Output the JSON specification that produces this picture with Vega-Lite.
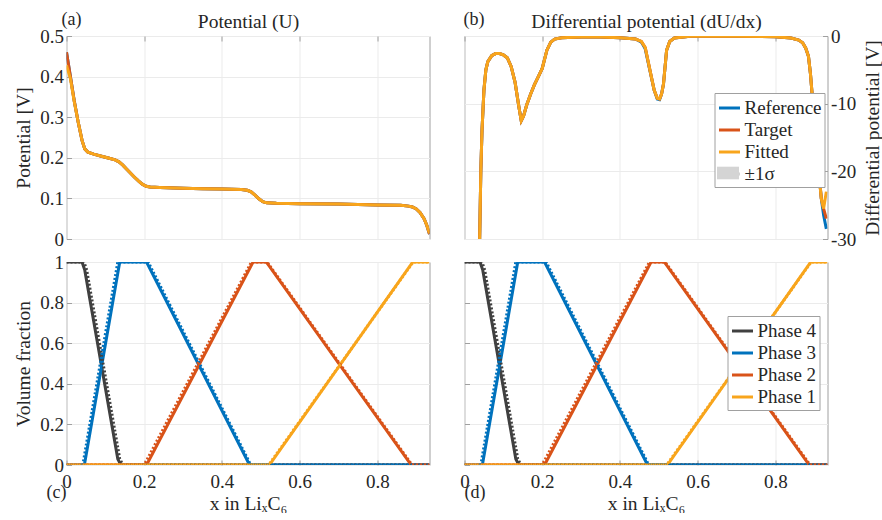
{
  "$schema": "https://vega.github.io/schema/vega-lite/v6.json",
  "padding": {"left": 12.5, "top": 10, "right": 0, "bottom": 0},
  "background": "white",
  "config": {
    "font": "Liberation Serif, DejaVu Serif, serif",
    "view": {"stroke": "#a0a0a0", "strokeWidth": 1},
    "axis": {
      "grid": true, "gridColor": "#ebebeb", "gridWidth": 1,
      "domain": false, "tickColor": "#a0a0a0", "tickSize": -5, "tickWidth": 1,
      "labelFont": "Liberation Serif, DejaVu Serif, serif", "labelFontSize": 19, "labelColor": "#262626", "labelPadding": 8,
      "titleFont": "Liberation Serif, DejaVu Serif, serif", "titleFontSize": 19.5, "titleFontWeight": "normal", "titleColor": "#262626",
      "labelFlush": false, "labelOverlap": false, "labelExpr": "'' + datum.value"
    },
    "title": {"font": "Liberation Serif, DejaVu Serif, serif", "fontSize": 18, "fontWeight": "normal", "color": "#262626"},
    "legend": {"labelFont": "Liberation Serif, DejaVu Serif, serif", "labelFontSize": 19, "labelColor": "#262626"},
    "line": {"strokeWidth": 3}
  },
  "datasets": {
    "U": [
      {"x": 0, "Reference": 0.46, "Target": 0.46, "Fitted": 0.428},
      {"x": 0.01, "Reference": 0.40, "Target": 0.40, "Fitted": 0.395},
      {"x": 0.02, "Reference": 0.34, "Target": 0.34, "Fitted": 0.338},
      {"x": 0.03, "Reference": 0.288, "Target": 0.288, "Fitted": 0.288},
      {"x": 0.04, "Reference": 0.243, "Target": 0.243, "Fitted": 0.243},
      {"x": 0.047, "Reference": 0.222, "Target": 0.222, "Fitted": 0.222},
      {"x": 0.055, "Reference": 0.214, "Target": 0.214, "Fitted": 0.214},
      {"x": 0.07, "Reference": 0.209, "Target": 0.209, "Fitted": 0.209},
      {"x": 0.09, "Reference": 0.204, "Target": 0.204, "Fitted": 0.204},
      {"x": 0.11, "Reference": 0.199, "Target": 0.199, "Fitted": 0.199},
      {"x": 0.125, "Reference": 0.195, "Target": 0.195, "Fitted": 0.195},
      {"x": 0.135, "Reference": 0.19, "Target": 0.19, "Fitted": 0.19},
      {"x": 0.145, "Reference": 0.182, "Target": 0.182, "Fitted": 0.182},
      {"x": 0.155, "Reference": 0.172, "Target": 0.172, "Fitted": 0.172},
      {"x": 0.165, "Reference": 0.162, "Target": 0.162, "Fitted": 0.162},
      {"x": 0.175, "Reference": 0.152, "Target": 0.152, "Fitted": 0.152},
      {"x": 0.185, "Reference": 0.143, "Target": 0.143, "Fitted": 0.143},
      {"x": 0.195, "Reference": 0.135, "Target": 0.135, "Fitted": 0.135},
      {"x": 0.205, "Reference": 0.13, "Target": 0.13, "Fitted": 0.13},
      {"x": 0.215, "Reference": 0.128, "Target": 0.128, "Fitted": 0.128},
      {"x": 0.24, "Reference": 0.127, "Target": 0.127, "Fitted": 0.127},
      {"x": 0.3, "Reference": 0.125, "Target": 0.125, "Fitted": 0.125},
      {"x": 0.35, "Reference": 0.124, "Target": 0.124, "Fitted": 0.124},
      {"x": 0.4, "Reference": 0.123, "Target": 0.123, "Fitted": 0.123},
      {"x": 0.45, "Reference": 0.122, "Target": 0.122, "Fitted": 0.122},
      {"x": 0.465, "Reference": 0.12, "Target": 0.12, "Fitted": 0.12},
      {"x": 0.475, "Reference": 0.116, "Target": 0.116, "Fitted": 0.116},
      {"x": 0.485, "Reference": 0.108, "Target": 0.108, "Fitted": 0.108},
      {"x": 0.495, "Reference": 0.099, "Target": 0.099, "Fitted": 0.099},
      {"x": 0.505, "Reference": 0.092, "Target": 0.092, "Fitted": 0.092},
      {"x": 0.515, "Reference": 0.089, "Target": 0.089, "Fitted": 0.089},
      {"x": 0.54, "Reference": 0.088, "Target": 0.088, "Fitted": 0.088},
      {"x": 0.6, "Reference": 0.087, "Target": 0.087, "Fitted": 0.087},
      {"x": 0.7, "Reference": 0.086, "Target": 0.086, "Fitted": 0.086},
      {"x": 0.8, "Reference": 0.084, "Target": 0.084, "Fitted": 0.084},
      {"x": 0.86, "Reference": 0.083, "Target": 0.083, "Fitted": 0.083},
      {"x": 0.88, "Reference": 0.081, "Target": 0.081, "Fitted": 0.081},
      {"x": 0.89, "Reference": 0.079, "Target": 0.079, "Fitted": 0.079},
      {"x": 0.9, "Reference": 0.074, "Target": 0.074, "Fitted": 0.074},
      {"x": 0.91, "Reference": 0.065, "Target": 0.065, "Fitted": 0.065},
      {"x": 0.92, "Reference": 0.05, "Target": 0.05, "Fitted": 0.05},
      {"x": 0.927, "Reference": 0.034, "Target": 0.034, "Fitted": 0.034},
      {"x": 0.934, "Reference": 0.012, "Target": 0.012, "Fitted": 0.014}
    ],
    "dU": [
      {"x": 0.036, "Reference": -36, "Target": -36, "Fitted": -36},
      {"x": 0.039, "Reference": -30, "Target": -30, "Fitted": -30},
      {"x": 0.042, "Reference": -20, "Target": -20, "Fitted": -20},
      {"x": 0.045, "Reference": -14, "Target": -14, "Fitted": -14},
      {"x": 0.05, "Reference": -8, "Target": -8, "Fitted": -8},
      {"x": 0.055, "Reference": -5, "Target": -5, "Fitted": -5},
      {"x": 0.06, "Reference": -3.8, "Target": -3.8, "Fitted": -3.8},
      {"x": 0.07, "Reference": -2.9, "Target": -2.9, "Fitted": -2.9},
      {"x": 0.08, "Reference": -2.6, "Target": -2.6, "Fitted": -2.6},
      {"x": 0.09, "Reference": -2.6, "Target": -2.6, "Fitted": -2.6},
      {"x": 0.1, "Reference": -2.8, "Target": -2.8, "Fitted": -2.8},
      {"x": 0.11, "Reference": -3.2, "Target": -3.2, "Fitted": -3.2},
      {"x": 0.12, "Reference": -4.5, "Target": -4.5, "Fitted": -4.5},
      {"x": 0.13, "Reference": -6.8, "Target": -6.8, "Fitted": -6.8},
      {"x": 0.14, "Reference": -10.5, "Target": -10.5, "Fitted": -10.5},
      {"x": 0.146, "Reference": -12.5, "Target": -12.5, "Fitted": -12.5},
      {"x": 0.152, "Reference": -11.8, "Target": -11.8, "Fitted": -11.8},
      {"x": 0.16, "Reference": -10.2, "Target": -10.2, "Fitted": -10.2},
      {"x": 0.17, "Reference": -8.6, "Target": -8.6, "Fitted": -8.6},
      {"x": 0.18, "Reference": -7.2, "Target": -7.2, "Fitted": -7.2},
      {"x": 0.19, "Reference": -6, "Target": -6, "Fitted": -6},
      {"x": 0.2, "Reference": -4.8, "Target": -4.8, "Fitted": -4.8},
      {"x": 0.212, "Reference": -2.1, "Target": -2.1, "Fitted": -2.1},
      {"x": 0.222, "Reference": -0.9, "Target": -0.9, "Fitted": -0.9},
      {"x": 0.232, "Reference": -0.45, "Target": -0.45, "Fitted": -0.45},
      {"x": 0.25, "Reference": -0.25, "Target": -0.25, "Fitted": -0.25},
      {"x": 0.3, "Reference": -0.15, "Target": -0.15, "Fitted": -0.15},
      {"x": 0.35, "Reference": -0.15, "Target": -0.15, "Fitted": -0.15},
      {"x": 0.4, "Reference": -0.25, "Target": -0.25, "Fitted": -0.25},
      {"x": 0.44, "Reference": -0.45, "Target": -0.45, "Fitted": -0.45},
      {"x": 0.455, "Reference": -0.9, "Target": -0.8, "Fitted": -0.8},
      {"x": 0.465, "Reference": -1.9, "Target": -1.7, "Fitted": -1.7},
      {"x": 0.477, "Reference": -5.1, "Target": -5, "Fitted": -5},
      {"x": 0.488, "Reference": -8, "Target": -8, "Fitted": -8},
      {"x": 0.496, "Reference": -9.3, "Target": -9.2, "Fitted": -9.2},
      {"x": 0.502, "Reference": -9.4, "Target": -9.3, "Fitted": -9.3},
      {"x": 0.507, "Reference": -8.6, "Target": -8.6, "Fitted": -8.6},
      {"x": 0.512, "Reference": -7.1, "Target": -7.1, "Fitted": -7.1},
      {"x": 0.52, "Reference": -2.1, "Target": -2.1, "Fitted": -2.1},
      {"x": 0.528, "Reference": -0.8, "Target": -0.8, "Fitted": -0.8},
      {"x": 0.54, "Reference": -0.3, "Target": -0.3, "Fitted": -0.3},
      {"x": 0.58, "Reference": -0.05, "Target": -0.05, "Fitted": -0.05},
      {"x": 0.7, "Reference": -0.05, "Target": -0.05, "Fitted": -0.05},
      {"x": 0.8, "Reference": -0.1, "Target": -0.1, "Fitted": -0.1},
      {"x": 0.84, "Reference": -0.3, "Target": -0.3, "Fitted": -0.3},
      {"x": 0.86, "Reference": -0.6, "Target": -0.6, "Fitted": -0.6},
      {"x": 0.87, "Reference": -1, "Target": -1, "Fitted": -1},
      {"x": 0.878, "Reference": -1.8, "Target": -1.8, "Fitted": -1.8},
      {"x": 0.885, "Reference": -3, "Target": -3, "Fitted": -3},
      {"x": 0.89, "Reference": -5.5, "Target": -5.5, "Fitted": -5.5},
      {"x": 0.895, "Reference": -9, "Target": -9, "Fitted": -9},
      {"x": 0.9, "Reference": -13, "Target": -13, "Fitted": -13},
      {"x": 0.91, "Reference": -19, "Target": -19, "Fitted": -19},
      {"x": 0.918, "Reference": -24, "Target": -24, "Fitted": -24},
      {"x": 0.924, "Reference": -26.5, "Target": -25.5, "Fitted": -25.5},
      {"x": 0.931, "Reference": -28.5, "Target": -27, "Fitted": -23}
    ],
    "sigma": [
      {"band": "±1σ"}
    ],
    "phases": [
      {"phase": "Phase 4", "kind": "fit", "x": 0, "v": 1},
      {"phase": "Phase 4", "kind": "fit", "x": 0.04, "v": 1},
      {"phase": "Phase 4", "kind": "fit", "x": 0.047, "v": 0.96},
      {"phase": "Phase 4", "kind": "fit", "x": 0.132, "v": 0.03},
      {"phase": "Phase 4", "kind": "fit", "x": 0.14, "v": 0},
      {"phase": "Phase 4", "kind": "fit", "x": 0.934, "v": 0},
      {"phase": "Phase 3", "kind": "fit", "x": 0, "v": 0},
      {"phase": "Phase 3", "kind": "fit", "x": 0.046, "v": 0},
      {"phase": "Phase 3", "kind": "fit", "x": 0.137, "v": 1},
      {"phase": "Phase 3", "kind": "fit", "x": 0.206, "v": 1},
      {"phase": "Phase 3", "kind": "fit", "x": 0.471, "v": 0},
      {"phase": "Phase 3", "kind": "fit", "x": 0.934, "v": 0},
      {"phase": "Phase 2", "kind": "fit", "x": 0, "v": 0},
      {"phase": "Phase 2", "kind": "fit", "x": 0.206, "v": 0},
      {"phase": "Phase 2", "kind": "fit", "x": 0.48, "v": 1},
      {"phase": "Phase 2", "kind": "fit", "x": 0.514, "v": 1},
      {"phase": "Phase 2", "kind": "fit", "x": 0.887, "v": 0},
      {"phase": "Phase 2", "kind": "fit", "x": 0.934, "v": 0},
      {"phase": "Phase 1", "kind": "fit", "x": 0, "v": 0},
      {"phase": "Phase 1", "kind": "fit", "x": 0.522, "v": 0},
      {"phase": "Phase 1", "kind": "fit", "x": 0.891, "v": 1},
      {"phase": "Phase 1", "kind": "fit", "x": 0.934, "v": 1},
      {"phase": "Phase 4", "kind": "ref", "x": 0, "v": 1},
      {"phase": "Phase 4", "kind": "ref", "x": 0.045, "v": 1},
      {"phase": "Phase 4", "kind": "ref", "x": 0.052, "v": 0.96},
      {"phase": "Phase 4", "kind": "ref", "x": 0.137, "v": 0.03},
      {"phase": "Phase 4", "kind": "ref", "x": 0.145, "v": 0},
      {"phase": "Phase 4", "kind": "ref", "x": 0.934, "v": 0},
      {"phase": "Phase 3", "kind": "ref", "x": 0, "v": 0},
      {"phase": "Phase 3", "kind": "ref", "x": 0.042, "v": 0},
      {"phase": "Phase 3", "kind": "ref", "x": 0.132, "v": 1},
      {"phase": "Phase 3", "kind": "ref", "x": 0.21, "v": 1},
      {"phase": "Phase 3", "kind": "ref", "x": 0.474, "v": 0},
      {"phase": "Phase 3", "kind": "ref", "x": 0.934, "v": 0},
      {"phase": "Phase 2", "kind": "ref", "x": 0, "v": 0},
      {"phase": "Phase 2", "kind": "ref", "x": 0.2, "v": 0},
      {"phase": "Phase 2", "kind": "ref", "x": 0.476, "v": 1},
      {"phase": "Phase 2", "kind": "ref", "x": 0.516, "v": 1},
      {"phase": "Phase 2", "kind": "ref", "x": 0.889, "v": 0},
      {"phase": "Phase 2", "kind": "ref", "x": 0.934, "v": 0},
      {"phase": "Phase 1", "kind": "ref", "x": 0, "v": 0},
      {"phase": "Phase 1", "kind": "ref", "x": 0.52, "v": 0},
      {"phase": "Phase 1", "kind": "ref", "x": 0.892, "v": 1},
      {"phase": "Phase 1", "kind": "ref", "x": 0.934, "v": 1}
    ]
  },
  "resolve": {"scale": {"color": "independent", "fill": "independent", "x": "independent", "y": "independent"}, "legend": {"color": "independent", "fill": "independent"}, "axis": {"x": "independent", "y": "independent"}},
  "bounds": "flush",
  "columns": 2,
  "spacing": {"row": 23, "column": 35},
  "concat": [
    {
      "width": 363, "height": 203,
      "title": {"text": "(a)", "anchor": "start", "frame": "group", "offset": -17, "dx": -5},
      "data": {"name": "U"},
      "transform": [{"fold": ["Reference", "Target", "Fitted"], "as": ["series", "U"]}],
      "mark": {"type": "line", "strokeWidth": 3, "clip": true},
      "encoding": {
        "x": {"field": "x", "type": "quantitative", "scale": {"domain": [0, 0.934], "nice": false},
              "axis": {"orient": "top", "title": "Potential (U)", "labels": false, "values": [0, 0.2, 0.4, 0.6, 0.8], "titlePadding": 4}},
        "y": {"field": "U", "type": "quantitative", "scale": {"domain": [0, 0.5], "nice": false},
              "axis": {"title": "Potential [V]", "values": [0, 0.1, 0.2, 0.3, 0.4, 0.5], "titlePadding": 6}},
        "color": {"field": "series", "type": "nominal",
                  "scale": {"domain": ["Reference", "Target", "Fitted"], "range": ["#0072BD", "#D95319", "#F8A51C"]},
                  "legend": null}
      }
    },
    {
      "width": 363, "height": 203,
      "title": {"text": "(b)", "anchor": "start", "frame": "group", "offset": -17, "dx": -1},
      "layer": [
        {
          "data": {"name": "dU"},
          "transform": [{"fold": ["Reference", "Target", "Fitted"], "as": ["series", "dU"]}],
          "mark": {"type": "line", "strokeWidth": 3, "clip": true},
          "encoding": {
            "x": {"field": "x", "type": "quantitative", "scale": {"domain": [0, 0.934], "nice": false},
                  "axis": {"orient": "top", "title": "Differential potential (dU/dx)", "labels": false, "values": [0, 0.2, 0.4, 0.6, 0.8], "titlePadding": 4}},
            "y": {"field": "dU", "type": "quantitative", "scale": {"domain": [-30, 0], "nice": false},
                  "axis": {"orient": "right", "title": "Differential potential [V]", "values": [-30, -20, -10, 0],
                           "titleAngle": 270, "titleBaseline": "top", "titlePadding": 8}},
            "color": {"field": "series", "type": "nominal",
                      "scale": {"domain": ["Reference", "Target", "Fitted", "±1σ"], "range": ["#0072BD", "#D95319", "#F8A51C", "#d4d4d4"]},
                      "legend": {"orient": "none", "legendX": 250, "legendY": 57, "title": null,
                                 "symbolType": "stroke", "symbolSize": 441, "symbolStrokeWidth": 3,
                                 "labelFontSize": 19, "labelOffset": 3, "rowPadding": 0,
                                 "strokeColor": "#a0a0a0", "fillColor": "white", "padding": 3}}
          }
        },
        {
          "data": {"name": "sigma"},
          "mark": {"type": "point", "filled": true, "opacity": 0},
          "encoding": {
            "fill": {"field": "band", "type": "nominal",
                     "scale": {"domain": ["±1σ"], "range": ["#d4d4d4"]},
                     "legend": {"orient": "none", "legendX": 253, "legendY": 126.5, "title": null,
                                "symbolType": "M-1.05,-0.6H1.05V0.6H-1.05Z", "symbolSize": 441, "symbolStrokeWidth": 0,
                                "symbolOpacity": 1, "labelExpr": "''", "padding": 0}}
          }
        }
      ]
    },
    {
      "width": 363, "height": 203,
      "title": {"text": "(c)", "anchor": "start", "align": "right", "frame": "group", "orient": "bottom", "offset": -29},
      "data": {"name": "phases"},
      "layer": [
        {
          "transform": [{"filter": "datum.kind === 'fit'"}],
          "mark": {"type": "line", "strokeWidth": 3, "clip": true},
          "encoding": {
            "x": {"field": "x", "type": "quantitative", "scale": {"domain": [0, 0.934], "nice": false},
                  "axis": {"title": "x in LiₓC₆", "values": [0, 0.2, 0.4, 0.6, 0.8], "labelPadding": 12, "titlePadding": 3}},
            "y": {"field": "v", "type": "quantitative", "scale": {"domain": [0, 1], "nice": false},
                  "axis": {"title": "Volume fraction", "values": [0, 0.2, 0.4, 0.6, 0.8, 1], "titlePadding": 6}},
            "color": {"field": "phase", "type": "nominal", "sort": null,
                      "scale": {"domain": ["Phase 4", "Phase 3", "Phase 2", "Phase 1"], "range": ["#404040", "#0072BD", "#D95319", "#F8A51C"]},
                      "legend": null}
          }
        },
        {
          "transform": [{"filter": "datum.kind === 'ref'"}],
          "mark": {"type": "line", "strokeWidth": 3, "strokeDash": [2, 2], "clip": true},
          "encoding": {
            "x": {"field": "x", "type": "quantitative"},
            "y": {"field": "v", "type": "quantitative"},
            "color": {"field": "phase", "type": "nominal", "sort": null, "legend": null}
          }
        }
      ]
    },
    {
      "width": 363, "height": 203,
      "title": {"text": "(d)", "anchor": "start", "frame": "group", "orient": "bottom", "offset": -29},
      "data": {"name": "phases"},
      "layer": [
        {
          "transform": [{"filter": "datum.kind === 'fit'"}],
          "mark": {"type": "line", "strokeWidth": 3, "clip": true},
          "encoding": {
            "x": {"field": "x", "type": "quantitative", "scale": {"domain": [0, 0.934], "nice": false},
                  "axis": {"title": "x in LiₓC₆", "values": [0, 0.2, 0.4, 0.6, 0.8], "labelPadding": 12, "titlePadding": 3}},
            "y": {"field": "v", "type": "quantitative", "scale": {"domain": [0, 1], "nice": false},
                  "axis": {"title": null, "labels": false, "values": [0, 0.2, 0.4, 0.6, 0.8, 1]}},
            "color": {"field": "phase", "type": "nominal", "sort": null,
                      "scale": {"domain": ["Phase 4", "Phase 3", "Phase 2", "Phase 1"], "range": ["#404040", "#0072BD", "#D95319", "#F8A51C"]},
                      "legend": {"orient": "none", "legendX": 263, "legendY": 54, "title": null,
                                 "symbolType": "stroke", "symbolSize": 441, "symbolStrokeWidth": 3, "symbolDash": [],
                                 "labelFontSize": 19, "labelOffset": 3, "rowPadding": 0,
                                 "strokeColor": "#a0a0a0", "fillColor": "white", "padding": 3}}
          }
        },
        {
          "transform": [{"filter": "datum.kind === 'ref'"}],
          "mark": {"type": "line", "strokeWidth": 3, "strokeDash": [2, 2], "clip": true},
          "encoding": {
            "x": {"field": "x", "type": "quantitative"},
            "y": {"field": "v", "type": "quantitative"},
            "color": {"field": "phase", "type": "nominal", "sort": null}
          }
        }
      ]
    }
  ]
}
